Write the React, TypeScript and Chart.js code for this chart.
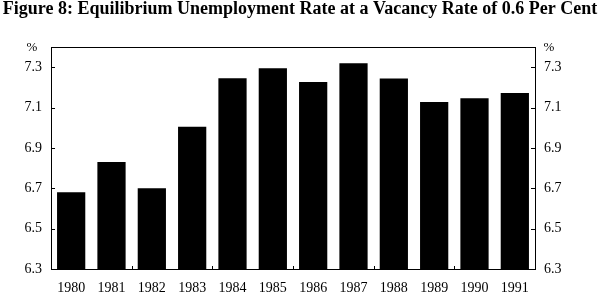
import React, { useEffect, useRef } from "react";
import { Chart, registerables } from "chart.js";

Chart.register(...registerables);

const years = ["1980", "1981", "1982", "1983", "1984", "1985", "1986", "1987", "1988", "1989", "1990", "1991"];
const rates = [6.68, 6.83, 6.7, 7.005, 7.245, 7.295, 7.227, 7.32, 7.244, 7.128, 7.146, 7.172];
const tickValues = [6.3, 6.5, 6.7, 6.9, 7.1, 7.3];
const titleText = "Figure 8: Equilibrium Unemployment Rate at a Vacancy Rate of 0.6 Per Cent";
const unitLabel = "%";

const FONT = "'Liberation Serif', 'Times New Roman', serif";

const framePlugin = {
  id: "frame",
  afterDatasetsDraw(chart: any) {
    const { ctx, chartArea } = chart;
    const { left, right, top, bottom } = chartArea;
    ctx.save();
    ctx.strokeStyle = "#000";
    ctx.lineWidth = 1;
    ctx.strokeRect(Math.round(left) + 0.5, Math.round(top) + 0.5, Math.round(right - left), Math.round(bottom - top));
    const y = chart.scales.y;
    ctx.beginPath();
    for (const v of tickValues) {
      const py = Math.round(y.getPixelForValue(v)) + 0.5;
      ctx.moveTo(left, py);
      ctx.lineTo(left + 4, py);
      ctx.moveTo(right, py);
      ctx.lineTo(right - 4, py);
    }
    const n = years.length;
    const step = (right - left) / n;
    for (let k = 2; k < n; k += 2) {
      const px = Math.round(left + step * k) + 0.5;
      ctx.moveTo(px, bottom);
      ctx.lineTo(px, bottom - 3);
    }
    ctx.stroke();
    ctx.fillStyle = "#000";
    ctx.font = "13px " + FONT;
    ctx.textBaseline = "middle";
    ctx.textAlign = "center";
    ctx.fillText(unitLabel, 32, 48);
    ctx.fillText(unitLabel, 549, 48);
    ctx.restore();
  },
};

export default function App() {
  const ref = useRef<HTMLCanvasElement>(null);
  useEffect(() => {
    document.body.style.margin = "0";
    const setTicks = (scale: any) => {
      scale.ticks = tickValues.map((v) => ({ value: v }));
    };
    const chart = new Chart(ref.current as HTMLCanvasElement, {
      type: "bar",
      data: {
        labels: years,
        datasets: [
          {
            data: rates,
            backgroundColor: "#000",
            borderWidth: 0,
            barPercentage: 0.7,
            categoryPercentage: 1,
          },
        ],
      },
      options: {
        animation: false,
        responsive: false,
        devicePixelRatio: 1,
        layout: { padding: 0 },
        plugins: {
          legend: { display: false },
          tooltip: { enabled: false },
          title: {
            display: true,
            text: titleText,
            color: "#000",
            font: { family: FONT, size: 18, weight: "bold", lineHeight: 1 },
            padding: { top: 0, bottom: 29 },
          },
        },
        scales: {
          x: {
            grid: { display: false, drawTicks: false },
            border: { display: false },
            ticks: { color: "#000", font: { family: FONT, size: 14 }, padding: 11, maxRotation: 0, autoSkip: false },
            afterFit: (s: any) => {
              s.height = 25;
            },
          },
          y: {
            position: "left",
            min: 6.3,
            max: 7.4,
            grid: { display: false, drawTicks: false },
            border: { display: false },
            ticks: { color: "#000", font: { family: FONT, size: 14 }, padding: 9, callback: (v: any) => Number(v).toFixed(1) },
            afterBuildTicks: setTicks,
            afterFit: (s: any) => {
              s.width = 51;
            },
          },
          y2: {
            position: "right",
            min: 6.3,
            max: 7.4,
            grid: { display: false, drawTicks: false },
            border: { display: false },
            ticks: { color: "#000", font: { family: FONT, size: 14 }, padding: 9, callback: (v: any) => Number(v).toFixed(1) },
            afterBuildTicks: setTicks,
            afterFit: (s: any) => {
              s.width = 65;
            },
          },
        },
      } as any,
      plugins: [framePlugin],
    });
    return () => chart.destroy();
  }, []);
  return (
    <div style={{ width: 600, height: 294 }}>
      <canvas ref={ref} width={600} height={294} />
    </div>
  );
}
